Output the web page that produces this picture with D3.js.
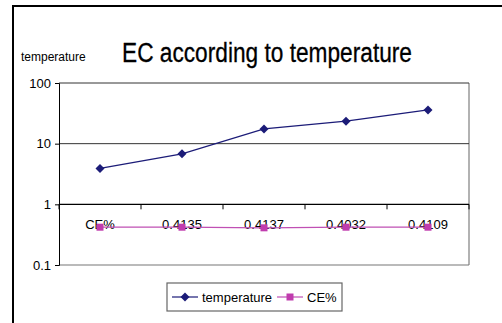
<!DOCTYPE html>
<html>
<head>
<meta charset="utf-8">
<script src="https://cdn.jsdelivr.net/npm/d3@7"></script>
<style>
  body { margin: 0; background: #fff; }
  svg { display: block; font-family: "Liberation Sans", Arial, sans-serif; }
</style>
</head>
<body>
<div id="wrapper"></div>
<script>
const categories = ["CE%", "0.4135", "0.4137", "0.4032", "0.4109"]
const temperature = [3.9, 6.8, 17.5, 23.5, 36]
const cePercent = [0.42, 0.42, 0.41, 0.42, 0.42]
const yTicks = [0.1, 1, 10, 100]

const width = 502
const height = 323
const plot = { left: 59, right: 469, top: 83, bottom: 265 }

const svg = d3.select("#wrapper")
  .append("svg")
  .attr("width", width)
  .attr("height", height)

// outer frame (left and top edges visible)
svg.append("line").attr("x1", 13).attr("x2", 13).attr("y1", 5).attr("y2", height)
  .attr("stroke", "#000").attr("stroke-width", 2)
svg.append("line").attr("x1", 12).attr("x2", width).attr("y1", 6).attr("y2", 6)
  .attr("stroke", "#000").attr("stroke-width", 2)

const x = d3.scaleBand().domain(categories).range([plot.left, plot.right])
const y = d3.scaleLog().domain([0.1, 100]).range([plot.bottom, plot.top])

// plot border: right and bottom gray
svg.append("line").attr("x1", plot.right).attr("x2", plot.right)
  .attr("y1", plot.top).attr("y2", plot.bottom).attr("stroke", "#999").attr("stroke-width", 1.5)
svg.append("line").attr("x1", plot.left).attr("x2", plot.right)
  .attr("y1", plot.bottom).attr("y2", plot.bottom).attr("stroke", "#777").attr("stroke-width", 1.2)

// gridlines
svg.append("g").selectAll("line").data([10, 100]).join("line")
  .attr("x1", plot.left).attr("x2", plot.right)
  .attr("y1", d => y(d)).attr("y2", d => y(d))
  .attr("stroke", "#333").attr("stroke-width", 1)

// y axis
const yAxis = d3.axisLeft(y).tickValues(yTicks).tickFormat(d => String(d)).tickSize(4).tickPadding(4)
svg.append("g")
  .attr("transform", `translate(${plot.left},0)`)
  .call(yAxis)
  .call(g => g.select(".domain").attr("stroke", "#000"))
  .call(g => g.selectAll("text").attr("font-size", 13).attr("fill", "#000").attr("font-family", "Liberation Sans, Arial, sans-serif"))

// category axis crossing at 1
const catAxis = svg.append("g").attr("transform", `translate(0,${y(1)})`)
catAxis.append("line").attr("x1", plot.left).attr("x2", plot.right)
  .attr("stroke", "#000").attr("stroke-width", 1.2)
catAxis.selectAll(".tick").data(d3.range(categories.length + 1)).join("line")
  .attr("x1", i => plot.left + i * x.bandwidth())
  .attr("x2", i => plot.left + i * x.bandwidth())
  .attr("y1", 0).attr("y2", 5)
  .attr("stroke", "#000")

// CE% series
const ceColor = "#c03cae"
const line = d3.line().x((d, i) => x(categories[i]) + x.bandwidth() / 2).y(d => y(d))
svg.append("path").datum(cePercent).attr("d", line)
  .attr("fill", "none").attr("stroke", "#c050b4").attr("stroke-width", 1.2)
svg.append("g").selectAll("rect").data(cePercent).join("rect")
  .attr("x", (d, i) => x(categories[i]) + x.bandwidth() / 2 - 3.5)
  .attr("y", d => y(d) - 3.5)
  .attr("width", 7).attr("height", 7)
  .attr("fill", ceColor)

// category labels (drawn over the CE% markers)
catAxis.selectAll("text").data(categories).join("text")
  .attr("x", d => x(d) + x.bandwidth() / 2)
  .attr("y", 25)
  .attr("text-anchor", "middle")
  .attr("font-size", 13)
  .attr("fill", "#000")
  .text(d => d)

// temperature series
const tColor = "#1c1c78"
svg.append("path").datum(temperature).attr("d", line)
  .attr("fill", "none").attr("stroke", tColor).attr("stroke-width", 1.3)
const diamond = "M0,-4.5L4.5,0L0,4.5L-4.5,0Z"
svg.append("g").selectAll("path").data(temperature).join("path")
  .attr("transform", (d, i) => `translate(${x(categories[i]) + x.bandwidth() / 2},${y(d)})`)
  .attr("d", diamond)
  .attr("fill", tColor)

// titles
svg.append("text")
  .attr("x", 267).attr("y", 62)
  .attr("text-anchor", "middle")
  .attr("font-size", 27)
  .attr("stroke", "#000").attr("stroke-width", 0.3)
  .attr("textLength", 290).attr("lengthAdjust", "spacingAndGlyphs")
  .text("EC according to temperature")
svg.append("text")
  .attr("x", 21).attr("y", 61)
  .attr("font-size", 12)
  .text("temperature")

// legend
const legend = svg.append("g")
legend.append("rect").attr("x", 167).attr("y", 283).attr("width", 175).attr("height", 28)
  .attr("fill", "#fff").attr("stroke", "#666").attr("stroke-width", 1.2)
legend.append("line").attr("x1", 172).attr("x2", 198).attr("y1", 297).attr("y2", 297)
  .attr("stroke", tColor).attr("stroke-width", 1.2)
legend.append("path").attr("transform", "translate(185,297)").attr("d", diamond).attr("fill", tColor)
legend.append("text").attr("x", 202).attr("y", 301.5).attr("font-size", 13).text("temperature")
legend.append("line").attr("x1", 277).attr("x2", 303).attr("y1", 297).attr("y2", 297)
  .attr("stroke", "#c050b4").attr("stroke-width", 1.2)
legend.append("rect").attr("x", 286.5).attr("y", 293.5).attr("width", 7).attr("height", 7).attr("fill", ceColor)
legend.append("text").attr("x", 307).attr("y", 301.5).attr("font-size", 13).text("CE%")
</script>
</body>
</html>
